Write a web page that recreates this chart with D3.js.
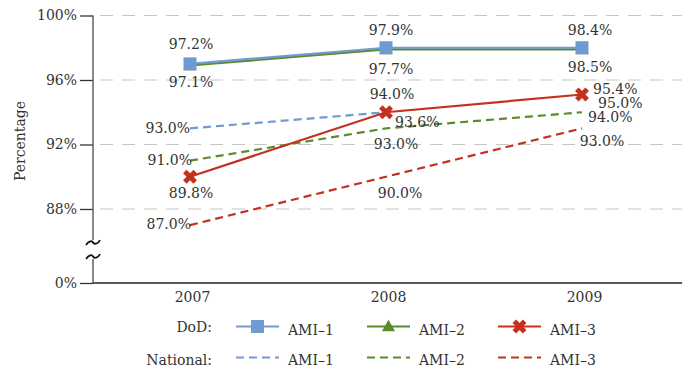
<!DOCTYPE html>
<html><head><meta charset="utf-8">
<script src="https://cdn.jsdelivr.net/npm/d3@7"></script>
<style>
html,body{margin:0;padding:0;background:#fff;}
svg text{font-family:"DejaVu Serif","Liberation Serif",serif !important;fill:#333;}
</style></head>
<body><svg id="chart" width="686" height="371"></svg>
<script>
// ---- data ----
const years = ["2007", "2008", "2009"];
const yTicks = [0, 88, 92, 96, 100];
const seriesNames = ["AMI\u20131", "AMI\u20132", "AMI\u20133"];
const seriesColors = ["#6f9ad2", "#5b8b2b", "#c4321f"];
const groupNames = ["DoD:", "National:"];

const dodAmi1 = [97.0, 98.0, 98.0];
const dodAmi2 = [96.9, 97.9, 97.9];
const dodAmi3 = [90.0, 94.0, 95.1];
const natAmi1 = [93.0, 94.0, null];
const natAmi2 = [91.0, 93.0, 94.0];
const natAmi3 = [87.0, 90.0, 93.0];

const dodAmi1Labels = ["97.2%", "97.9%", "98.4%"];
const dodAmi2Labels = ["97.1%", "97.7%", "98.5%"];
const dodAmi3Labels = ["89.8%", "93.6%", "95.4%"];
const natAmi1Labels = ["93.0%", "94.0%", "95.0%"];
const natAmi2Labels = ["91.0%", "93.0%", "94.0%"];
const natAmi3Labels = ["87.0%", "90.0%", "93.0%"];

// ---- label placement (layout, not data) ----
const labelLayout = {
  dodAmi1: [[1,-15,"middle"],[5,-12.5,"middle"],[8,-12.5,"middle"]],
  dodAmi2: [[1,21.5,"middle"],[5,25,"middle"],[8,23,"middle"]],
  dodAmi3: [[1,21,"middle"],[9,15,"start"],[11,-1,"start"]],
  natAmi1: [[0,4.6,"end"],[6,-13.5,"middle"],[16,11.7,"start"]],
  natAmi2: [[2,4.3,"end"],[10,20.5,"middle"],[6,9.5,"start"]],
  natAmi3: [[1,4,"end"],[14,21,"middle"],[20,17.5,"middle"]]
};

const svg = d3.select("#chart");
const x = d3.scalePoint().domain(years).range([92, 680]).padding(0.5);
const y = d3.scaleLinear().domain([0, 86, 100]).range([283, 241.25, 15.5]);
const axisX0 = 93, axisX1 = 682;
const fs = 14;

// gridlines
svg.append("g").selectAll("line").data(yTicks.filter(d => d > 0)).join("line")
  .attr("x1", 100).attr("x2", axisX1)
  .attr("y1", d => y(d)).attr("y2", d => y(d))
  .attr("stroke", "#c6c6c6").attr("stroke-width", 1.2)
  .attr("stroke-dasharray", "13,9");

// y axis
const yAxis = svg.append("g").attr("transform", `translate(${axisX0},0)`)
  .call(d3.axisLeft(y).tickValues(yTicks).tickFormat(d => d + "%").tickSize(13).tickPadding(3));
yAxis.select(".domain").remove();
yAxis.selectAll(".tick line").attr("stroke", "#333").attr("stroke-width", 1.3);
yAxis.selectAll(".tick text").style("font-size", fs + "px").attr("fill", "#333");

// axis line with break
const brk1 = 242.5, brk2 = 256.5;
svg.append("line").attr("x1", axisX0).attr("x2", axisX0).attr("y1", y(100)).attr("y2", brk1 - 2.5)
  .attr("stroke", "#555").attr("stroke-width", 1.4);
svg.append("line").attr("x1", axisX0).attr("x2", axisX0).attr("y1", brk2 + 2.5).attr("y2", y(0))
  .attr("stroke", "#555").attr("stroke-width", 1.4);
[brk1, brk2].forEach(b => {
  svg.append("path")
    .attr("d", `M${axisX0-7},${b+2.5} C${axisX0-4},${b-2} ${axisX0-1},${b-2} ${axisX0},${b} S${axisX0+5},${b+2} ${axisX0+7},${b-2.5}`)
    .attr("fill", "none").attr("stroke", "#111").attr("stroke-width", 1.8);
});

// x axis
svg.append("line").attr("x1", axisX0).attr("x2", axisX1).attr("y1", y(0)).attr("y2", y(0))
  .attr("stroke", "#222").attr("stroke-width", 1.4);
const xAxis = svg.append("g").attr("transform", `translate(0,${y(0)})`)
  .call(d3.axisBottom(x).tickSize(0).tickPadding(9));
xAxis.select(".domain").remove();
xAxis.selectAll(".tick text").style("font-size", fs + "px").attr("fill", "#333").attr("dx", 2);

// y title
svg.append("text").attr("transform", "translate(25,141) rotate(-90)")
  .attr("text-anchor", "middle").style("font-size", fs + "px").text("Percentage");

// lines
const line = d3.line().defined(d => d.v != null).x(d => x(d.year)).y(d => y(d.v));
const toPts = arr => arr.map((v, i) => ({ year: years[i], v }));

const national = [natAmi1, natAmi2, natAmi3];
national.forEach((arr, i) => {
  svg.append("path").datum(toPts(arr)).attr("d", line)
    .attr("fill", "none").attr("stroke", seriesColors[i]).attr("stroke-width", 2.2)
    .attr("stroke-dasharray", "8,5");
});
const dod = [dodAmi1, dodAmi2, dodAmi3];
[2, 1, 0].forEach(i => {
  svg.append("path").datum(toPts(dod[i])).attr("d", line)
    .attr("fill", "none").attr("stroke", seriesColors[i]).attr("stroke-width", 2.2);
});

// markers
function drawMarker(g, type, cx, cy, color, size) {
  if (type === 0) {
    g.append("rect").attr("x", cx - size/2).attr("y", cy - size/2).attr("width", size).attr("height", size)
      .attr("fill", color);
  } else if (type === 1) {
    g.append("path").attr("transform", `translate(${cx},${cy+1})`)
      .attr("d", d3.symbol(d3.symbolTriangle, size * size * 0.45)()).attr("fill", color);
  } else {
    const r = size * 0.4;
    g.append("path").attr("d", `M${cx-r},${cy-r}L${cx+r},${cy+r}M${cx-r},${cy+r}L${cx+r},${cy-r}`)
      .attr("stroke", color).attr("stroke-width", 5).attr("fill", "none");
  }
}
const mg = svg.append("g");
[2, 1, 0].forEach(i => {
  toPts(dod[i]).forEach(p => drawMarker(mg, i, x(p.year), y(p.v), seriesColors[i], 13));
});

// data labels
const labelSets = [
  ["dodAmi1", dodAmi1, dodAmi1Labels], ["dodAmi2", dodAmi2, dodAmi2Labels], ["dodAmi3", dodAmi3, dodAmi3Labels],
  ["natAmi1", natAmi1, natAmi1Labels], ["natAmi2", natAmi2, natAmi2Labels], ["natAmi3", natAmi3, natAmi3Labels]
];
const lg = svg.append("g");
labelSets.forEach(([key, vals, labs]) => {
  labs.forEach((t, i) => {
    const v = vals[i] != null ? vals[i] : parseFloat(t);
    const [dx, dy, anchor] = labelLayout[key][i];
    lg.append("text").attr("x", x(years[i]) + dx).attr("y", y(v) + dy)
      .attr("text-anchor", anchor).style("font-size", fs + "px").text(t);
  });
});

// legend
const legX = [236, 367, 498], legW = 43, legTextGap = 9;
const rowY = [326.5, 357.5];
groupNames.forEach((gname, r) => {
  svg.append("text").attr("x", 212).attr("y", r === 0 ? 332 : 365).attr("text-anchor", "end")
    .style("font-size", fs + "px").text(gname);
  seriesNames.forEach((s, i) => {
    svg.append("line").attr("x1", legX[i]).attr("x2", legX[i] + legW).attr("y1", rowY[r]).attr("y2", rowY[r])
      .attr("stroke", seriesColors[i]).attr("stroke-width", 2.2)
      .attr("stroke-dasharray", r === 0 ? null : "8,5");
    if (r === 0) drawMarker(svg, i, legX[i] + legW/2, rowY[r], seriesColors[i], 13);
    svg.append("text").attr("x", legX[i] + legW + legTextGap).attr("y", r === 0 ? 335 : 365)
      .style("font-size", fs + "px").text(s);
  });
});
</script></body></html>
